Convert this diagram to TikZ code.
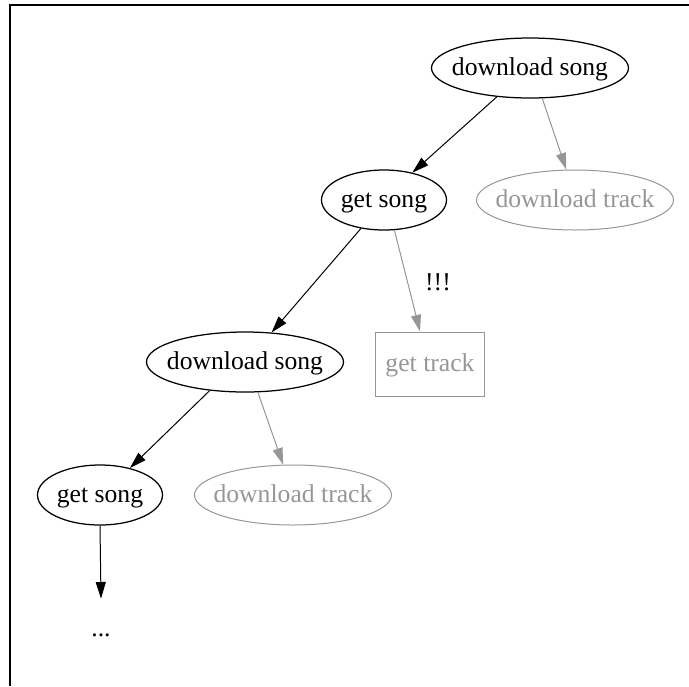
\documentclass[tikz,border=0pt]{standalone}
\usepackage{fontspec}
\setmainfont{Liberation Serif}
\usetikzlibrary{arrows.meta,shapes.geometric}
\definecolor{fade}{RGB}{150,150,150}
\newcommand\zwtxt[1]{\makebox[0pt]{#1}}
\begin{document}
\begin{tikzpicture}[x=0.6pt,y=-0.6pt,
  every node/.style={font=\fontsize{15.4}{18}\selectfont, inner sep=0pt},
  lbl/.style={text height=10.4pt, text depth=2pt},
  dsn/.style={lbl, draw, line width=0.75pt, ellipse, minimum width=118.2pt, minimum height=36pt},
  gsn/.style={lbl, draw, line width=0.75pt, ellipse, minimum width=75pt, minimum height=36pt},
  dtn/.style={lbl, draw=fade, text=fade, line width=0.6pt, ellipse, minimum width=118.2pt, minimum height=36pt},
  trk/.style={lbl, draw=fade, text=fade, line width=0.6pt, rectangle, minimum width=65.4pt, minimum height=38.4pt},
  blk/.style={draw=black, line width=0.6pt, -{Triangle[length=10pt,width=6pt]}},
  gry/.style={draw=fade, line width=0.6pt, -{Triangle[length=10pt,width=6pt,fill=fade]}}
]
\useasboundingbox (0,0) rectangle (689,686);
\draw[line width=0.8pt] (10,686) -- (10,5) -- (689,5);

\node[dsn] (ds1) at (530,68) {\zwtxt{download song}};
\node[gsn] (gs1) at (384,200) {\zwtxt{get song}};
\node[dtn] (dt1) at (575,200) {\zwtxt{download track}};
\node[trk] (gt) at (430,364) {get track};
\node[dsn] (ds2) at (245,362) {\zwtxt{download song}};
\node[gsn] (gs2) at (100,495) {\zwtxt{get song}};
\node[dtn] (dt2) at (293,495) {\zwtxt{download track}};
\node[minimum height=43.2pt] (dots) at (101,635) {...};
\node (bang) at (438,282) {!!!};

\draw[blk] (ds1.221) -- (gs1.44);
\draw[gry] (ds1.292) -- (dt1.106);
\draw[blk] (gs1.231) -- (ds2.48);
\draw[gry] (gs1.289) -- (gt.107);
\draw[blk] (ds2.219) -- (gs2.42);
\draw[gry] (ds2.293) -- (dt2.108);
\draw[blk] (gs2.south) -- (dots.north);
\end{tikzpicture}
\end{document}
